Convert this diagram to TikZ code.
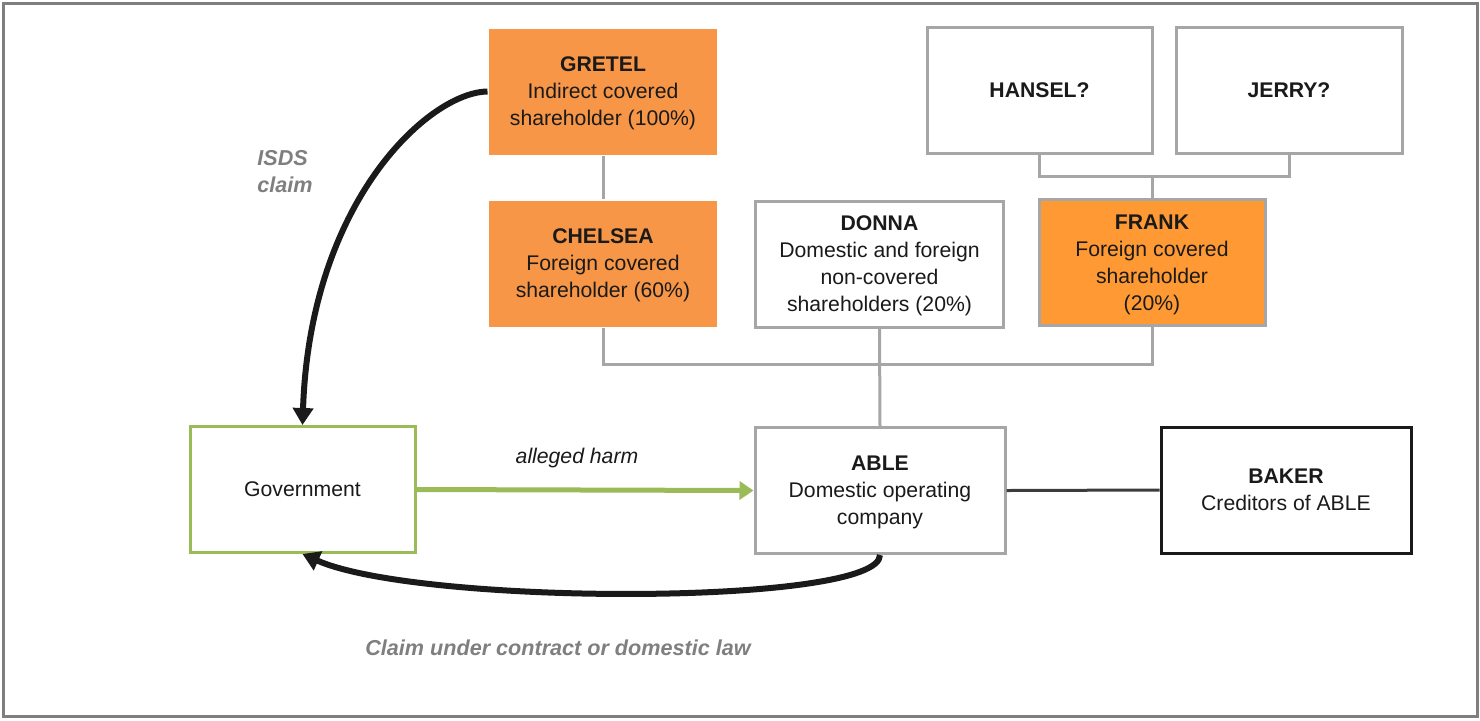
\documentclass[tikz,border=0pt]{standalone}
\usepackage{fontspec}
\setmainfont{Liberation Sans}
\usetikzlibrary{arrows.meta}

\definecolor{orangebox}{HTML}{F79646}
\definecolor{orangefrank}{HTML}{FF9933}
\definecolor{boxgray}{HTML}{A6A6A6}
\definecolor{framegray}{HTML}{7F7F7F}
\definecolor{labelgray}{HTML}{7F7F7F}
\definecolor{govgreen}{HTML}{9BBB59}
\definecolor{txt}{HTML}{1A1A1A}

\begin{document}
\begin{tikzpicture}[
        x=0.5pt, y=-0.5pt,
        every node/.style={font=\fontsize{10.6}{13.5}\selectfont, text=txt, align=center, inner sep=0pt},
        party/.style={rectangle, minimum width=#1, minimum height=63pt, line width=1.5pt, text depth=0pt},
        party/.default=114pt,
        covered/.style={party, fill=orangebox},
        plain/.style={party=#1, draw=boxgray, fill=white},
        plain/.default=124pt,
        tie/.style={draw=boxgray, line width=1.5pt},
        claim/.style={line width=3pt, color=txt, -{Triangle[width=10pt,length=8.5pt]}},
        note/.style={text=labelgray, font=\fontsize{10.8}{13.5}\selectfont\bfseries\itshape},
    ]

    \useasboundingbox (0,0) rectangle (1480,720);
    \draw[framegray, line width=1.5pt] (3,3) rectangle (1477,716);

    \node[covered] (gretel) at (603,91.5)  {\textbf{GRETEL}\\Indirect covered\\shareholder (100\%)};
    \node[covered] (chelsea) at (603,263.5) {\textbf{CHELSEA}\\Foreign covered\\shareholder (60\%)};
    \node[plain] (donna) at (879.5,264)   {\textbf{DONNA}\\Domestic and foreign\\non-covered\\shareholders (20\%)};
    \node[plain=113pt, fill=orangefrank] (frank) at (1152,262.5) {\textbf{FRANK}\\Foreign covered\\shareholder\\(20\%)};
    \node[plain=112.5pt] (hansel) at (1039.5,90) {\textbf{HANSEL?}};
    \node[plain=113pt] (jerry) at (1289,90)  {\textbf{JERRY?}};

    \node[party=112.5pt, draw=govgreen, fill=white] (gov) at (302.5,489.5) {Government};
    \node[plain=125pt] (able) at (880,490.5) {\textbf{ABLE}\\Domestic operating\\company};
    \node[party=125pt, draw=txt] (baker) at (1286,490) {\textbf{BAKER}\\Creditors of ABLE};

    \coordinate (hj) at (1152,176);
    \coordinate (jn) at (880,364);

    \draw[tie] (gretel) -- (chelsea);
    \draw[tie] (hansel.south) |- (hj) -| (jerry.south);
    \draw[tie] (hj) -- (frank.north);
    \draw[tie] (chelsea.south) |- (jn) -| (frank.south);
    \draw[tie] (donna.south) -- (able.north);
    \draw[line width=1.5pt, color=txt!85] (able.east) -- (baker.west);

    \draw[line width=2.5pt, govgreen, -{Triangle[width=9pt,length=7pt]}] (gov.east) -- (able.west);
    \node (harm) at (577,458) {\itshape alleged harm};

    \draw[claim] (gretel.west) .. controls (430,92) and (310,200) .. (gov.north);
    \draw[claim] (able.south) .. controls (880,606) and (420,606) .. (gov.south);

    \node[note, align=left, anchor=north west] (isds) at (257,150) {ISDS\\claim};
    \node[note] (contract) at (558,648) {Claim under contract or domestic law};
\end{tikzpicture}
\end{document}
